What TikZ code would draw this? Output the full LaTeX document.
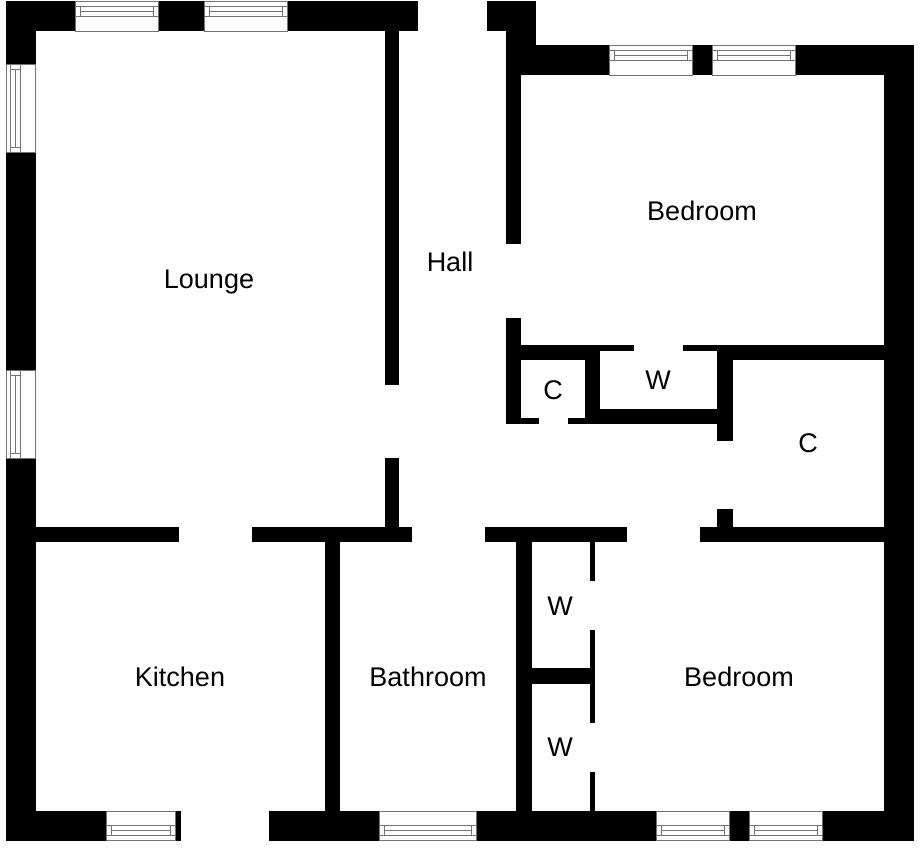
\documentclass[tikz,border=0pt]{standalone}
\usepackage{fontspec}
\setmainfont{Liberation Sans}
\tikzset{
  wall/.style={fill=black,draw=none},
  winline/.style={draw=black!55,line width=0.9pt},
  room/.style={font=\fontsize{27}{30}\selectfont,text=black,inner sep=0pt}
}
\newcommand\wl[4]{\fill[wall] (#1,#2) rectangle (#3,#4);}
% horizontal window: x1 x2 ytop ybot ya yb yc
\newcommand\winH[7]{%
  \draw[winline,fill=white] (#1,#3) rectangle (#2,#4);
  \draw[winline] (#1,#5) -- (#2,#5) (#1,#7) -- (#2,#7);
  \draw[winline] (#1+5,#5) -- (#1+5,#7) (#2-5,#5) -- (#2-5,#7) (#1+5,#6) -- (#2-5,#6);}
% vertical window: y1 y2 xleft xright xa xb xc
\newcommand\winV[7]{%
  \draw[winline,fill=white] (#3,#1) rectangle (#4,#2);
  \draw[winline] (#5,#1) -- (#5,#2) (#7,#1) -- (#7,#2);
  \draw[winline] (#5,#1+5) -- (#7,#1+5) (#5,#2-5) -- (#7,#2-5) (#6,#1+5) -- (#6,#2-5);}
\begin{document}
\begin{tikzpicture}[x=1pt,y=-1pt]
\useasboundingbox (0,0) rectangle (920,848);
\fill[white] (0,0) rectangle (920,848);
% outer walls
\wl{6}{1.5}{418}{31}
\wl{6}{1.5}{35.5}{841}
\wl{6}{811}{180.5}{841}
\wl{268.5}{811}{914}{841}
\wl{486.5}{1.5}{536}{31}
\wl{506}{1.5}{536}{75}
\wl{506}{45.5}{914}{75}
\wl{884}{45.5}{914}{841}
% lounge / hall
\wl{385}{31}{399}{385}
\wl{385}{458}{399}{527}
\wl{6}{526.5}{179}{541.5}
\wl{252}{526.5}{412}{541.5}
\wl{484.5}{526.5}{627}{541.5}
\wl{700}{526.5}{914}{541.5}
\wl{717}{509}{732.5}{527}
% lower partitions
\wl{325}{541}{340}{811}
\wl{515.5}{541}{531.5}{811}
\wl{589.5}{541}{595}{581}
\wl{589.5}{630}{595}{723}
\wl{589.5}{772}{595}{811}
\wl{531}{668}{595}{684}
% upper bedroom and cupboards
\wl{506}{75}{521}{244}
\wl{506}{317.5}{521}{423.5}
\wl{506}{344.5}{634}{350.5}
\wl{521}{350}{600}{360}
\wl{585}{344.5}{600}{423.5}
\wl{585}{408.5}{732.5}{423.5}
\wl{521}{417.5}{538.5}{423.5}
\wl{567.5}{417.5}{585}{423.5}
\wl{682.5}{344.5}{914}{350.5}
\wl{717}{350}{914}{360}
\wl{717}{344.5}{732.5}{441}
% windows
\winH{75.3}{158}{1.5}{31}{6.5}{11.5}{16.5}
\winH{204}{287}{1.5}{31}{6.5}{11.5}{16.5}
\winH{609.5}{692.5}{45.5}{75}{50.5}{55.5}{60.5}
\winH{712.5}{795.5}{45.5}{75}{50.5}{55.5}{60.5}
\winH{106.5}{175}{811}{840.5}{825.5}{830.5}{835.5}
\winH{379}{476.5}{811}{840.5}{825.5}{830.5}{835.5}
\winH{656}{729.5}{811}{840.5}{825.5}{830.5}{835.5}
\winH{749.5}{822.5}{811}{840.5}{825.5}{830.5}{835.5}
\winV{64.5}{152.5}{6}{35.5}{10.7}{15.7}{20.7}
\winV{370}{458}{6}{35.5}{10.7}{15.7}{20.7}
% labels
\node[room] (lounge) at (209,282.5) {Lounge};
\node[room] (hall) at (450,262) {Hall};
\node[room] (bed1) at (702,210.5) {Bedroom};
\node[room] (c1) at (553,390) {C};
\node[room] (w1) at (658,380) {W};
\node[room] (c2) at (808,443) {C};
\node[room] (w2) at (560,606) {W};
\node[room] (w3) at (560,747) {W};
\node[room] (kitchen) at (180,677) {Kitchen};
\node[room] (bath) at (428,677) {Bathroom};
\node[room] (bed2) at (739,677) {Bedroom};
\end{tikzpicture}
\end{document}
